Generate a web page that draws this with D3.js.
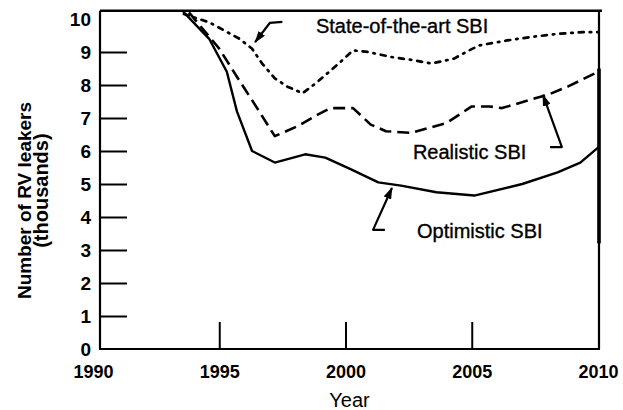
<!DOCTYPE html>
<html>
<head>
<meta charset="utf-8">
<script src="https://cdn.jsdelivr.net/npm/d3@7"></script>
<style>
  html, body { margin: 0; padding: 0; background: #fff; }
  svg { display: block; }
  text { font-family: "Liberation Sans", Arial, Helvetica, sans-serif; fill: #000; }
</style>
</head>
<body>
<svg id="chart" width="623" height="410"></svg>
<script>
// Projected number of RV leakers (thousands) under three SBI scenarios
const optimisticYears  = [1993.6, 1994.6, 1995.3, 1995.7, 1996.3, 1997.2, 1998.4, 1999.2, 2000.2, 2001.3, 2002.2, 2003.6, 2005.1, 2007.0, 2008.4, 2009.3, 2010];
const optimisticValues = [10.2, 9.4, 8.4, 7.2, 6.0, 5.65, 5.9, 5.8, 5.45, 5.05, 4.95, 4.75, 4.65, 5.0, 5.35, 5.65, 6.1];

const realisticYears  = [1993.8, 1995.0, 1995.7, 1996.5, 1997.2, 1998.1, 1998.9, 1999.4, 2000.3, 2001.0, 2001.6, 2002.6, 2004.0, 2005.0, 2005.7, 2006.2, 2007.3, 2008.0, 2008.8, 2010];
const realisticValues = [10.2, 9.1, 8.25, 7.3, 6.45, 6.75, 7.1, 7.3, 7.3, 6.8, 6.6, 6.55, 6.85, 7.35, 7.35, 7.3, 7.55, 7.7, 7.95, 8.4];

const stateArtYears  = [1993.6, 1994.6, 1995.8, 1996.3, 1996.7, 1997.2, 1997.7, 1998.3, 1998.9, 1999.8, 2000.3, 2000.9, 2001.8, 2002.7, 2003.4, 2004.3, 2004.9, 2005.3, 2006.4, 2007.3, 2008.4, 2009.4, 2010];
const stateArtValues = [10.15, 9.9, 9.4, 9.1, 8.65, 8.2, 7.95, 7.75, 8.1, 8.7, 9.05, 9.0, 8.85, 8.75, 8.65, 8.8, 9.05, 9.2, 9.35, 9.45, 9.55, 9.6, 9.6];

const yTickLabels = [0, 1, 2, 3, 4, 5, 6, 7, 8, 9, 10];
const yTickMarks  = [1, 2, 3, 4, 5, 6, 7, 8, 9];
const xTickLabels = [1990, 1995, 2000, 2005, 2010];
const xTickMarks  = [1995, 2000, 2005];

const xTitle = "Year";
const yTitleLines = ["Number of RV leakers", "(thousands)"];

// Series labels with their callout arrows, in data units
const seriesLabels = [
  { text: "State-of-the-art SBI", year: 1998.83, value: 9.58,
    arrow: [[1997.5, 9.91], [1997.0, 9.88], [1996.42, 9.30]] },
  { text: "Realistic SBI", year: 2002.67, value: 5.76,
    arrow: [[2008.1, 6.12], [2008.57, 6.12], [2007.82, 7.70]] },
  { text: "Optimistic SBI", year: 2002.83, value: 3.36,
    arrow: [[2001.56, 3.61], [2001.09, 3.61], [2001.84, 4.88]] }
];

const svg = d3.select("#chart");

const x = d3.scaleLinear().domain([1990, 2010]).range([93, 598]);
const y = d3.scaleLinear().domain([0, 10]).range([349, 19]);

const frameLeft = 100;
const frameTop = y(10.25);

// Arrowhead marker
svg.append("defs").append("marker")
  .attr("id", "head")
  .attr("viewBox", "0 0 12 8")
  .attr("refX", 11).attr("refY", 4)
  .attr("markerWidth", 12).attr("markerHeight", 8)
  .attr("markerUnits", "userSpaceOnUse")
  .attr("orient", "auto")
  .append("path").attr("d", "M0,0 L12,4 L0,8 Z").attr("fill", "#000");

// Plot frame
const frame = svg.append("g").attr("stroke", "#000").attr("fill", "none");
frame.append("line").attr("x1", frameLeft).attr("x2", frameLeft).attr("y1", frameTop).attr("y2", y(0)).attr("stroke-width", 2.2);
frame.append("line").attr("x1", frameLeft).attr("x2", x(2010) + 4).attr("y1", frameTop).attr("y2", frameTop).attr("stroke-width", 2.5);
frame.append("line").attr("x1", frameLeft - 1).attr("x2", x(2010) + 2).attr("y1", y(0)).attr("y2", y(0)).attr("stroke-width", 2);
frame.append("line").attr("x1", x(2010) + 1).attr("x2", x(2010) + 1).attr("y1", frameTop).attr("y2", y(0)).attr("stroke-width", 2.2);
frame.append("line").attr("x1", x(2010) + 1).attr("x2", x(2010) + 1).attr("y1", y(8.5)).attr("y2", y(3.2)).attr("stroke-width", 3.6);

// Inward tick marks
svg.append("g")
  .attr("transform", `translate(${frameLeft},0)`)
  .call(d3.axisRight(y).tickValues(yTickMarks).tickSize(27).tickFormat(""))
  .call(g => g.select(".domain").remove())
  .call(g => g.selectAll("line").attr("stroke", "#000").attr("stroke-width", 2));

svg.append("g")
  .attr("transform", `translate(0,${y(0)})`)
  .call(d3.axisTop(x).tickValues(xTickMarks).tickSize(27).tickFormat(""))
  .call(g => g.select(".domain").remove())
  .call(g => g.selectAll("line").attr("stroke", "#000").attr("stroke-width", 2));

// Tick labels
svg.append("g")
  .attr("transform", `translate(${frameLeft},0)`)
  .call(d3.axisLeft(y).tickValues(yTickLabels).tickSize(0).tickPadding(9).tickFormat(d3.format("d")))
  .call(g => g.select(".domain").remove())
  .call(g => g.selectAll("text").attr("fill", "#000").style("font-size", "19px").style("font-weight", "bold")
    .style("font-family", '"Liberation Sans", Arial, sans-serif'));

svg.append("g")
  .attr("transform", `translate(0,${y(0)})`)
  .call(d3.axisBottom(x).tickValues(xTickLabels).tickSize(0).tickPadding(16).tickFormat(d3.format("d")))
  .call(g => g.select(".domain").remove())
  .call(g => g.selectAll("text").attr("fill", "#000").style("font-size", "18px").style("font-weight", "bold")
    .style("font-family", '"Liberation Sans", Arial, sans-serif'));

// Axis titles
svg.append("text")
  .attr("x", (x(1990) + x(2010)) / 2 + 4).attr("y", 407)
  .attr("text-anchor", "middle")
  .style("font-size", "20px")
  .text(xTitle);

svg.append("text")
  .attr("transform", `translate(31,${y(4.5)}) rotate(-90)`)
  .attr("text-anchor", "middle")
  .style("font-size", "19px")
  .style("font-weight", "bold")
  .text(yTitleLines[0]);
svg.append("text")
  .attr("transform", `translate(48,${y(4.8)}) rotate(-90)`)
  .attr("text-anchor", "middle")
  .style("font-size", "20px")
  .style("font-weight", "bold")
  .text(yTitleLines[1]);

// Series lines
const line = d3.line().x(d => x(d[0])).y(d => y(d[1]));

const series = [
  { years: stateArtYears,   values: stateArtValues,   dash: "5,6,1.5,6", width: 2.7, cap: "round" },
  { years: realisticYears,  values: realisticValues,  dash: "12,6",      width: 2.6, cap: "butt" },
  { years: optimisticYears, values: optimisticValues, dash: null,        width: 2.4, cap: "round" }
];

svg.append("g").selectAll("path")
  .data(series)
  .join("path")
  .attr("d", s => line(d3.zip(s.years, s.values)))
  .attr("fill", "none")
  .attr("stroke", "#000")
  .attr("stroke-width", s => s.width)
  .attr("stroke-linecap", s => s.cap)
  .attr("stroke-linejoin", "round")
  .attr("stroke-dasharray", s => s.dash);

// Labels and callout arrows
const notes = svg.append("g");
notes.selectAll("text")
  .data(seriesLabels)
  .join("text")
  .attr("x", d => x(d.year))
  .attr("y", d => y(d.value))
  .style("font-size", "20px")
  .style("stroke", "#000")
  .style("stroke-width", "0.35px")
  .text(d => d.text);

const arrowLine = d3.line().x(d => x(d[0])).y(d => y(d[1]));
notes.selectAll("path")
  .data(seriesLabels)
  .join("path")
  .attr("d", d => arrowLine(d.arrow))
  .attr("fill", "none")
  .attr("stroke", "#000")
  .attr("stroke-width", 2.2)
  .attr("stroke-linejoin", "round")
  .attr("marker-end", "url(#head)");
</script>
</body>
</html>
